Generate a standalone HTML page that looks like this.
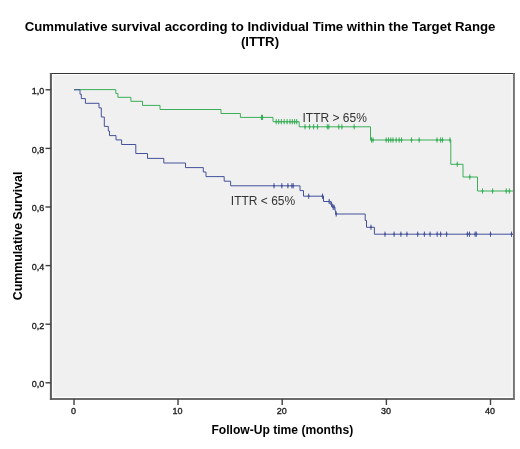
<!DOCTYPE html>
<html><head><meta charset="utf-8"><style>
html,body{margin:0;padding:0;background:#fff;width:520px;height:449px;overflow:hidden}
svg{display:block;will-change:transform;filter:blur(0.35px)}
text{font-family:"Liberation Sans",sans-serif}
.ttl{font-size:13.2px;font-weight:bold;fill:#000}
.axl{font-size:12.1px;font-weight:bold;fill:#000}
.ayl{font-size:12.3px;font-weight:bold;fill:#000}
.tk{font-size:9.5px;fill:#1a1a1a;stroke:#1a1a1a;stroke-width:0.35px}
.lab{font-size:12px;fill:#333}
</style></head><body>
<svg width="520" height="449" viewBox="0 0 520 449">
<rect x="53.3" y="75" width="458.4" height="321.8" fill="#f0f0f0" stroke="none"/>
<path d="M74,89.6H115.8V93.4H117.9V97.3H130.9V101.3H142.5V105.4H160.0V109.5H221.0V113.5H240.4V117.4H273.0V121.7H299.2V126.8H370.5V140.0H450.8V164.3H463.0V177.0H477.5V191.0H513.0" fill="none" stroke="#3aae58" stroke-width="1.0"/>
<path d="M261.5,114.8V120.0M262.5,114.8V120.0M276.2,119.1V124.3M278.7,119.1V124.3M281.3,119.1V124.3M284.2,119.1V124.3M287.1,119.1V124.3M290,119.1V124.3M292.3,119.1V124.3M294.6,119.1V124.3M296.7,119.1V124.3M305,124.2V129.4M309.6,124.2V129.4M313.6,124.2V129.4M317.5,124.2V129.4M327.3,124.2V129.4M328.8,124.2V129.4M338.8,124.2V129.4M341.9,124.2V129.4M354.2,124.2V129.4M371.5,137.4V142.6M373,137.4V142.6M386.2,137.4V142.6M388.5,137.4V142.6M390.8,137.4V142.6M393,137.4V142.6M396.2,137.4V142.6M399.2,137.4V142.6M401.5,137.4V142.6M411.5,137.4V142.6M419.2,137.4V142.6M437,137.4V142.6M440.6,137.4V142.6M442.5,137.4V142.6M450,137.4V142.6M457.3,161.7V166.9M469.8,174.4V179.6M482.5,188.4V193.6M492.6,188.4V193.6M506.3,188.4V193.6M509.4,188.4V193.6" fill="none" stroke="#3aae58" stroke-width="1.0"/>
<path d="M260.5,117.4H262.5M261.5,117.4H263.5M275.2,121.7H277.2M277.7,121.7H279.7M280.3,121.7H282.3M283.2,121.7H285.2M286.1,121.7H288.1M289.0,121.7H291.0M291.3,121.7H293.3M293.6,121.7H295.6M295.7,121.7H297.7M304.0,126.8H306.0M308.6,126.8H310.6M312.6,126.8H314.6M316.5,126.8H318.5M326.3,126.8H328.3M327.8,126.8H329.8M337.8,126.8H339.8M340.9,126.8H342.9M353.2,126.8H355.2M370.5,140.0H372.5M372.0,140.0H374.0M385.2,140.0H387.2M387.5,140.0H389.5M389.8,140.0H391.8M392.0,140.0H394.0M395.2,140.0H397.2M398.2,140.0H400.2M400.5,140.0H402.5M410.5,140.0H412.5M418.2,140.0H420.2M436.0,140.0H438.0M439.6,140.0H441.6M441.5,140.0H443.5M449.0,140.0H451.0M456.3,164.3H458.3M468.8,177.0H470.8M481.5,191.0H483.5M491.6,191.0H493.6M505.3,191.0H507.3M508.4,191.0H510.4" fill="none" stroke="#3aae58" stroke-width="1.5"/>
<path d="M74,89.8H80.0V94.2H81.3V98.6H85.4V103.3H99.0V107.9H101.3V117.0H104.3V126.4H108.3V131.0H109.5V135.6H116.0V139.9H121.6V144.5H135.8V153.5H147.5V158.4H163.8V163.0H185.5V167.6H203.3V172.0H206.0V176.6H224.2V181.2H230.6V185.8H300.0V190.6H303.5V196.2H323.5V201.5H330.8V204.3H332.4V207.3H335.0V210.8H335.6V214.0H365.2V220.5H366.5V227.3H374.4V234.2H513.0" fill="none" stroke="#44529a" stroke-width="1.0"/>
<path d="M274,183.2V188.4M281.8,183.2V188.4M287.9,183.2V188.4M291.9,183.2V188.4M293.2,183.2V188.4M308.7,193.6V198.8M322.5,193.6V198.8M329.2,198.9V204.1M331.5,201.7V206.9M333.2,204.7V209.9M334.1,204.7V209.9M336.2,211.4V216.6M371,224.7V229.9M385,231.6V236.8M394.1,231.6V236.8M400.9,231.6V236.8M406.9,231.6V236.8M417.7,231.6V236.8M424.4,231.6V236.8M430.1,231.6V236.8M437.2,231.6V236.8M440.6,231.6V236.8M446.6,231.6V236.8M467.4,231.6V236.8M469.5,231.6V236.8M475.1,231.6V236.8M476.3,231.6V236.8M490.5,231.6V236.8M511.5,231.6V236.8" fill="none" stroke="#44529a" stroke-width="1.0"/>
<path d="M273.0,185.8H275.0M280.8,185.8H282.8M286.9,185.8H288.9M290.9,185.8H292.9M292.2,185.8H294.2M307.7,196.2H309.7M321.5,196.2H323.5M328.2,201.5H330.2M330.5,204.3H332.5M332.2,207.3H334.2M333.1,207.3H335.1M335.2,214.0H337.2M370.0,227.3H372.0M384.0,234.2H386.0M393.1,234.2H395.1M399.9,234.2H401.9M405.9,234.2H407.9M416.7,234.2H418.7M423.4,234.2H425.4M429.1,234.2H431.1M436.2,234.2H438.2M439.6,234.2H441.6M445.6,234.2H447.6M466.4,234.2H468.4M468.5,234.2H470.5M474.1,234.2H476.1M475.3,234.2H477.3M489.5,234.2H491.5M510.5,234.2H512.5" fill="none" stroke="#44529a" stroke-width="1.5"/>
<path d="M49.9,73.5H514.9" stroke="#333" stroke-width="1.2"/>
<path d="M49.9,399H514.9" stroke="#3a3a3a" stroke-width="1.6"/>
<path d="M50.9,73V399.8" stroke="#5a5a5a" stroke-width="2"/>
<path d="M513.9,73V399.8" stroke="#747474" stroke-width="2"/>
<path d="M45.5,89.8H51" stroke="#404040" stroke-width="1.4"/>
<text transform="translate(44.2,94.2) scale(0.95,1)" text-anchor="end" class="tk">1,0</text>
<path d="M45.5,148.4H51" stroke="#404040" stroke-width="1.4"/>
<text transform="translate(44.2,152.8) scale(0.95,1)" text-anchor="end" class="tk">0,8</text>
<path d="M45.5,207.0H51" stroke="#404040" stroke-width="1.4"/>
<text transform="translate(44.2,211.4) scale(0.95,1)" text-anchor="end" class="tk">0,6</text>
<path d="M45.5,265.6H51" stroke="#404040" stroke-width="1.4"/>
<text transform="translate(44.2,270.0) scale(0.95,1)" text-anchor="end" class="tk">0,4</text>
<path d="M45.5,324.2H51" stroke="#404040" stroke-width="1.4"/>
<text transform="translate(44.2,328.6) scale(0.95,1)" text-anchor="end" class="tk">0,2</text>
<path d="M45.5,382.8H51" stroke="#404040" stroke-width="1.4"/>
<text transform="translate(44.2,387.2) scale(0.95,1)" text-anchor="end" class="tk">0,0</text>
<path d="M74,399V405" stroke="#404040" stroke-width="1.4"/>
<text transform="translate(73.6,413.8) scale(0.95,1)" text-anchor="middle" class="tk">0</text>
<path d="M178,399V405" stroke="#404040" stroke-width="1.4"/>
<text transform="translate(177.6,413.8) scale(0.95,1)" text-anchor="middle" class="tk">10</text>
<path d="M282.2,399V405" stroke="#404040" stroke-width="1.4"/>
<text transform="translate(281.8,413.8) scale(0.95,1)" text-anchor="middle" class="tk">20</text>
<path d="M386.4,399V405" stroke="#404040" stroke-width="1.4"/>
<text transform="translate(386.0,413.8) scale(0.95,1)" text-anchor="middle" class="tk">30</text>
<path d="M490.5,399V405" stroke="#404040" stroke-width="1.4"/>
<text transform="translate(490.1,413.8) scale(0.95,1)" text-anchor="middle" class="tk">40</text>
<text x="302.5" y="121.8" class="lab">ITTR &gt; 65%</text>
<text x="230.8" y="205" class="lab">ITTR &lt; 65%</text>
<text x="260" y="30.6" text-anchor="middle" class="ttl">Cummulative survival according to Individual Time within the Target Range</text>
<text x="260" y="45.5" text-anchor="middle" class="ttl">(ITTR)</text>
<text x="282.3" y="433.5" text-anchor="middle" class="axl">Follow-Up time (months)</text>
<text transform="translate(22.0,235.9) rotate(-90)" text-anchor="middle" class="ayl">Cummulative Survival</text>
</svg>
</body></html>
